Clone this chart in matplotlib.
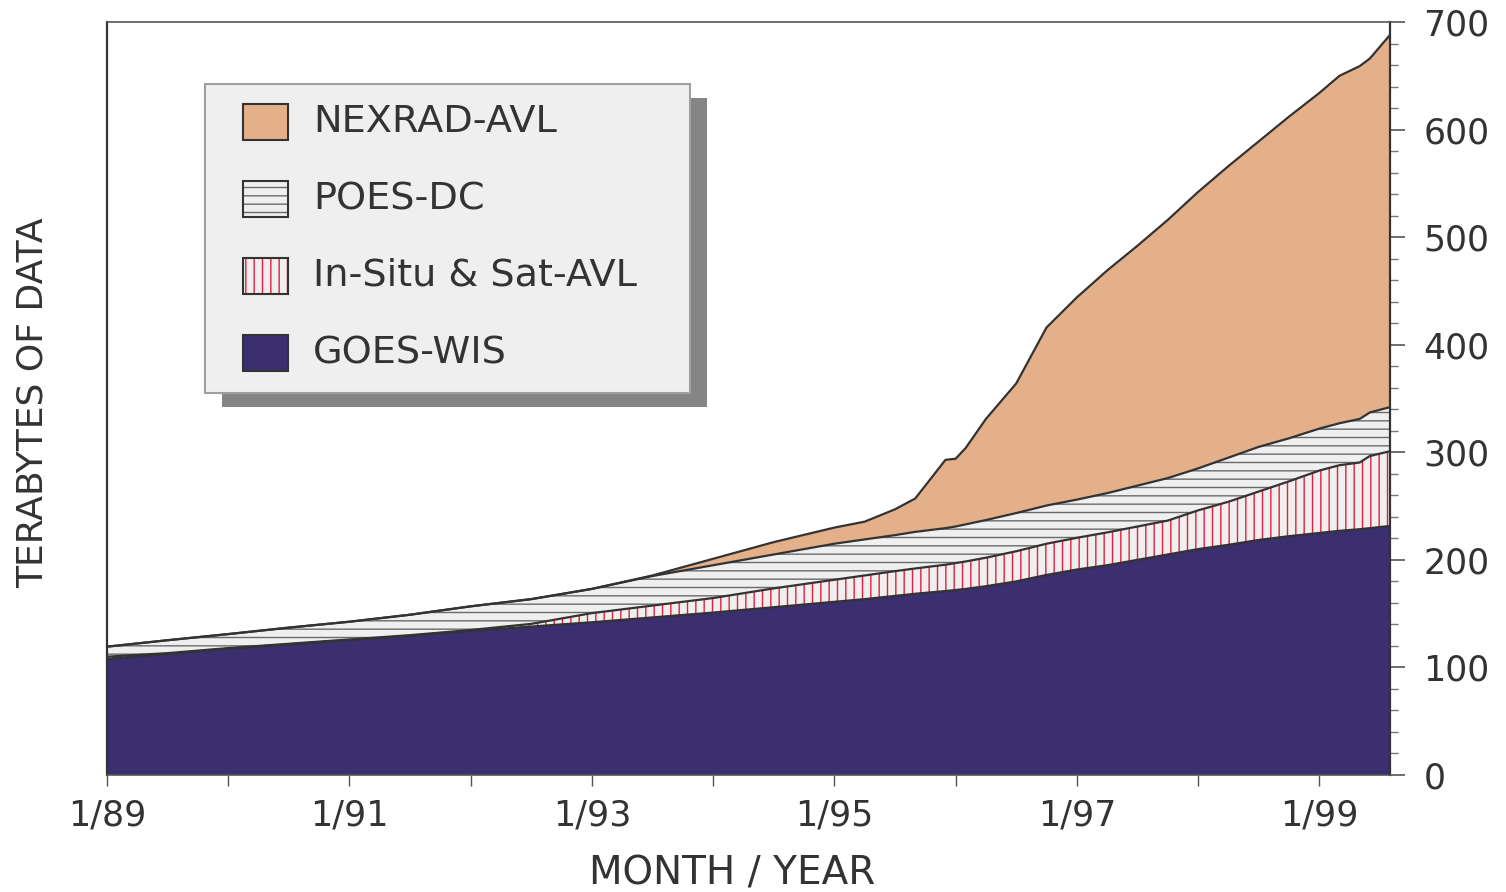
import numpy as np
import matplotlib
matplotlib.use('Agg')
import matplotlib.pyplot as plt
from matplotlib.patches import Rectangle

plt.rcParams['font.family'] = 'DejaVu Sans'
plt.rcParams['hatch.linewidth'] = 1.0

# data: months since 1/89, terabytes per archive (stacked bottom -> top)
months = [0, 6, 12, 18, 24, 30, 36, 42, 48, 54, 60, 66, 72, 75, 78, 80, 83, 84, 85, 87,
          90, 93, 96, 99, 102, 105, 108, 111, 114, 117, 120, 122, 124, 125, 127]
goes = [108, 112.5, 117.5, 121.5, 125.5, 129.5, 134, 138, 142, 146.5, 151, 156, 161, 163.5,
        166.5, 168.5, 171, 172, 173, 175.5, 180, 186, 191, 195, 200, 205, 210, 214, 218.5,
        222, 225, 227, 228.5, 229.5, 231.5]
insitu = [2, 0.8, 0.5, 0.5, 0.5, 0.5, 0.8, 2.5, 8.5, 11, 13.5, 17.5, 20.5, 22, 23, 23.5,
          24.5, 25, 25.5, 26.5, 28, 29, 29.5, 30.5, 31, 31.5, 36, 40, 45, 51, 58, 61, 62,
          67, 69.5]
poes = [9.3, 12, 13, 15, 16.5, 19, 22, 23, 22.5, 27.5, 30.5, 31.5, 33.5, 33.5, 33.5, 34,
        34, 34, 34.5, 35, 35.5, 35.5, 35.5, 36.5, 38, 39.5, 39, 41, 41.5, 40, 39, 39, 40.5,
        40.5, 41]
nexrad = [0, 0, 0, 0, 0, 0, 0, 0, 0, 0.5, 6, 11.5, 15, 16.5, 24, 31, 63.5, 63, 71, 94,
          120.5, 165.5, 188, 207, 223, 240, 257, 271, 284, 299, 312, 323, 328, 329, 346]

names = ['GOES-WIS', 'In-Situ & Sat-AVL', 'POES-DC', 'NEXRAD-AVL']
xtick_years = [1989, 1991, 1993, 1995, 1997, 1999]
xtick_labels = ['1/89', '1/91', '1/93', '1/95', '1/97', '1/99']

faces = ['#3b2f6f', '#efefef', '#efefef', '#e4b08a']
hatches = [None, '||', '--', None]
hatch_cols = [None, '#e0203c', '#6a6a6a', None]
line_col = '#333333'
text_col = '#333333'

W, H = 1506, 892
fig = plt.figure(figsize=(W/100, H/100), dpi=100)
ax = fig.add_axes([107/W, 117/H, 1283/W, 753/H])

x = 1989 + np.array(months)/12
tops = np.cumsum(np.array([goes, insitu, poes, nexrad], dtype=float), axis=0)
bots = np.vstack([np.zeros(len(x)), tops[:-1]])

for i in range(4):
    ax.fill_between(x, bots[i], tops[i], facecolor=faces[i], edgecolor='none', lw=0, zorder=1)
    if hatches[i]:
        ax.fill_between(x, bots[i], tops[i], facecolor='none', edgecolor=hatch_cols[i],
                        hatch=hatches[i], lw=0, zorder=2)
for i in range(4):
    ax.plot(x, tops[i], color=line_col, lw=1.6, zorder=3)

ax.set_xlim(1989, 1989 + 127/12)
ax.set_ylim(0, 700)

# axes / ticks
ax.yaxis.tick_right()
ax.set_yticks(np.arange(0, 701, 100))
ax.set_yticks(np.arange(0, 701, 20), minor=True)
ax.tick_params(axis='y', which='major', length=11, width=1.2, color='#555555', pad=13,
               labelsize=25, labelcolor=text_col)
ax.tick_params(axis='y', which='minor', length=6, width=1.0, color='#777777')
ax.set_xticks(xtick_years)
ax.set_xticklabels(xtick_labels)
ax.set_xticks([1990, 1992, 1994, 1996, 1998], minor=True)
ax.tick_params(axis='x', which='both', length=8, width=1.0, color='#555555', pad=9,
               labelsize=25, labelcolor=text_col)
for s in ['left', 'right']:
    ax.spines[s].set_color('#333333')
    ax.spines[s].set_linewidth(1.6)
for s in ['top', 'bottom']:
    ax.spines[s].set_color('#555555')
    ax.spines[s].set_linewidth(1.2)

fig.text(33/W, 1 - 403/H, 'TERABYTES OF DATA', rotation=90, ha='center', va='center',
         fontsize=26, color=text_col)
fig.text(732/W, 1 - 874/H, 'MONTH / YEAR', ha='center', va='center', fontsize=28,
         color=text_col)

# legend box with drop shadow
def px_rect(x0, y0, x1, y1, **kw):
    r = Rectangle((x0/W, 1 - y1/H), (x1 - x0)/W, (y1 - y0)/H, transform=fig.transFigure, **kw)
    fig.add_artist(r)
    return r

px_rect(222, 98, 707, 407, facecolor='#858585', edgecolor='none', zorder=5)
px_rect(205, 84, 690, 393, facecolor='#efefef', edgecolor='#a0a0a0', lw=1.5, zorder=6)

rows_y = [122, 199, 276, 353]
for k, i in enumerate([3, 2, 1, 0]):
    cy = rows_y[k]
    px_rect(243, cy - 18, 288, cy + 18, facecolor=faces[i], edgecolor='none', zorder=7)
    if hatches[i]:
        px_rect(243, cy - 18, 288, cy + 18, facecolor='none', edgecolor=hatch_cols[i],
                hatch=hatches[i], lw=0, zorder=8)
    px_rect(243, cy - 18, 288, cy + 18, facecolor='none', edgecolor='#333333', lw=1.5,
            zorder=9)
    fig.text(313/W, 1 - cy/H, names[i], ha='left', va='center', fontsize=27.5,
             color=text_col, zorder=10)

fig.savefig('out.png', dpi=100)
